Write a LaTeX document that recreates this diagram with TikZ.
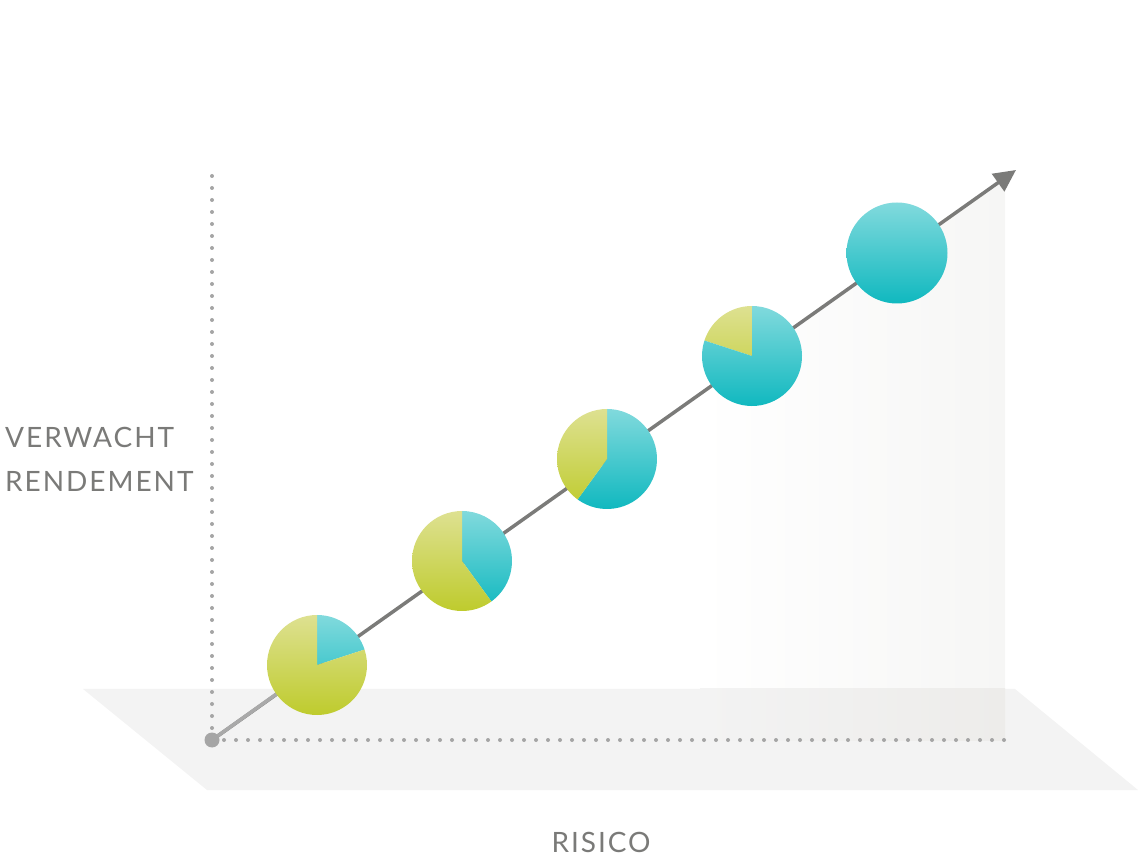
\documentclass[tikz,border=0pt]{standalone}
\usepackage{fontspec}
\setmainfont{Lato}
\usetikzlibrary{arrows.meta}
\definecolor{txtgray}{HTML}{7A7A78}
\definecolor{linegray}{HTML}{7B7B79}
\definecolor{lightline}{HTML}{A9A9A9}
\definecolor{dotgray}{HTML}{A5A5A5}
\definecolor{floorgray}{HTML}{F3F3F3}
\definecolor{wallR}{HTML}{F6F6F5}
\definecolor{wallfloorR}{HTML}{EDECEA}
\definecolor{yelTop}{HTML}{DEE192}
\definecolor{yelBot}{HTML}{BECB2C}
\definecolor{tealTop}{HTML}{82DADD}
\definecolor{tealBot}{HTML}{0FB8BF}
\tikzset{
  dotline/.style={dotgray,line width=4pt,line cap=round,dash pattern=on 0pt off 12pt},
  axislabel/.style={text=txtgray,font=\fontsize{28}{30}\selectfont\addfontfeature{LetterSpace=7},inner sep=0pt},
  yelshade/.style={top color=yelTop,bottom color=yelBot},
  tealshade/.style={top color=tealTop,bottom color=tealBot},
}
\newcommand{\pieslice}[5]{% center, start, end, radius, style
  \begin{scope}
    \clip (#1) -- ++(#2:#4) arc[start angle=#2,end angle=#3,radius=#4] -- cycle;
    \shade[#5] (#1) circle[radius=#4+1];
  \end{scope}}
\begin{document}
\begin{tikzpicture}[x=1pt,y=1pt]
\useasboundingbox (0,0) rectangle (1138,860);
% floor
\fill[floorgray] (83,171) -- (1015,171) -- (1138,70) -- (207,70) -- cycle;
% back wall
\shade[left color=white,right color=wallR] (700,466) -- (1005,682) -- (1005,171) -- (700,171) -- cycle;
\shade[left color=floorgray,right color=wallfloorR] (700,171) -- (1005,171) -- (1005,120) -- (700,120) -- cycle;
% coordinates
\coordinate (O) at (212,120);
\coordinate (T) at (1016,690);
\coordinate (Ytop) at (212,692);
\coordinate (Xend) at (1005,120);
\coordinate (P1) at (317,195);
\coordinate (P2) at (462,299);
\coordinate (P3) at (607,401);
\coordinate (P4) at (752,504);
\coordinate (P5) at (897,607);
% dotted axes
\draw[dotline] (O) -- (Ytop);
\draw[dotline] (O) -- (Xend);
% main arrow
\draw[linegray,line width=3.5pt,-{Triangle[length=22pt,width=21pt]}] (O) -- (T);
\draw[lightline,line width=3.5pt] (O) -- (P1);
\fill[dotgray] (O) circle[radius=7.5];
% pies
\pieslice{P1}{18}{90}{50}{tealshade}
\pieslice{P1}{90}{378}{50}{yelshade}
\pieslice{P2}{-54}{90}{50}{tealshade}
\pieslice{P2}{90}{306}{50}{yelshade}
\pieslice{P3}{234}{450}{50}{tealshade}
\pieslice{P3}{90}{234}{50}{yelshade}
\pieslice{P4}{90}{162}{50}{yelshade}
\pieslice{P4}{162}{450}{50}{tealshade}
\begin{scope}
  \clip (P5) circle[radius=50.5];
  \shade[tealshade] (P5) circle[radius=51];
\end{scope}
% labels
\node[axislabel,anchor=base west] (lv) at (5,412) {VERWACHT};
\node[axislabel,anchor=base west] (lr) at (5,368) {RENDEMENT};
\node[axislabel,anchor=base] (lx) at (601,8) {RISICO};
\end{tikzpicture}
\end{document}
